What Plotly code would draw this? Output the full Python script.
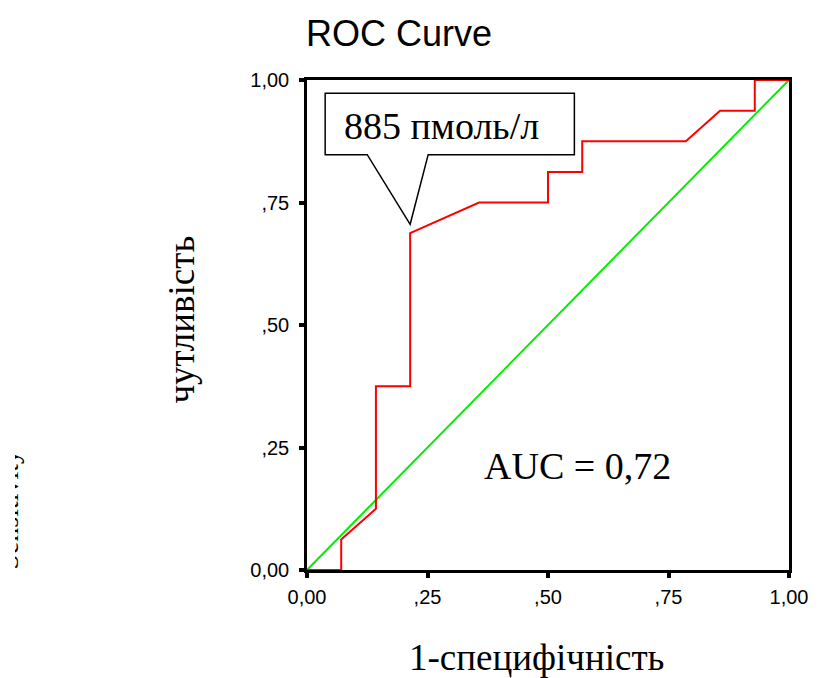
import plotly.graph_objects as go

# ROC curve data (1-specificity, sensitivity)
fpr = [0.0, 0.071, 0.071, 0.143, 0.143, 0.214, 0.214, 0.357, 0.5, 0.5,
       0.571, 0.571, 0.786, 0.857, 0.929, 0.929, 1.0]
tpr = [0.0, 0.0, 0.0625, 0.125, 0.375, 0.375, 0.6875, 0.75, 0.75, 0.8125,
       0.8125, 0.875, 0.875, 0.9375, 0.9375, 1.0, 1.0]
ref_x = [0.0, 1.0]
ref_y = [0.0, 1.0]

tick_vals = [0.0, 0.25, 0.5, 0.75, 1.0]
tick_text = ["0,00", ",25", ",50", ",75", "1,00"]

cutoff_label = "885 пмоль/л"
auc_label = "AUC = 0,72"

W, H = 820, 678
L, R, T, B = 307, 25, 80, 108

SERIF = "Liberation Serif, Times New Roman, serif"
SANS = "Liberation Sans, Arial, sans-serif"

fig = go.Figure()
fig.add_trace(go.Scatter(x=ref_x, y=ref_y, mode="lines",
                         line=dict(color="#00ee00", width=2), cliponaxis=False,
                         hoverinfo="skip", showlegend=False))
fig.add_trace(go.Scatter(x=fpr, y=tpr, mode="lines",
                         line=dict(color="#ff0000", width=2), cliponaxis=False,
                         showlegend=False))

# callout box with pointer
path = ("M 0.0377,0.973 L 0.5547,0.973 L 0.5547,0.8476 L 0.2514,0.8476 "
        "L 0.214,0.7055 L 0.125,0.8476 L 0.0377,0.8476 Z")
fig.add_shape(type="path", path=path, xref="x", yref="y",
              line=dict(color="black", width=1.5), fillcolor="white", layer="above")

fig.add_annotation(x=0.280, y=0.907, xref="x", yref="y", text=cutoff_label,
                   showarrow=False, xanchor="center", yanchor="middle",
                   font=dict(family=SERIF, size=38, color="black"))
fig.add_annotation(x=0.562, y=0.212, xref="x", yref="y", text=auc_label,
                   showarrow=False, xanchor="center", yanchor="middle",
                   font=dict(family=SERIF, size=38, color="black"))

def px_to_paper_x(px):
    return (px - L) / (W - L - R)

def px_to_paper_y(py):
    return (H - B - py) / (H - T - B)

def label(px, py, text, font, angle=0, **kw):
    fig.add_annotation(x=px_to_paper_x(px), y=px_to_paper_y(py), xref="paper", yref="paper",
                       text=text, showarrow=False, textangle=angle,
                       xanchor=kw.pop("xanchor", "center"), yanchor="middle",
                       font=font, **kw)

# title
label(400, 34, "ROC Curve", dict(family=SANS, size=36, color="black"))
# axis titles
label(539, 657, "1-специфічність", dict(family=SERIF, size=37, color="black"))
label(179, 320, "чутливість", dict(family=SERIF, size=37, color="black"), angle=-90)
# remnant of the original English label, mostly covered
label(4, 510, "Sensitivity", dict(family=SERIF, size=28, color="black"), angle=-90)
label(11.5, 510, " ", dict(family=SERIF, size=10, color="white"),
      xanchor="right", bgcolor="white", width=40, height=160, borderpad=0, borderwidth=0)

axis_common = dict(range=[0, 1], tickvals=tick_vals, ticktext=tick_text,
                   showgrid=False, zeroline=False, showline=True, mirror=True,
                   linecolor="black", linewidth=2.5, ticks="outside", ticklen=5,
                   tickwidth=4, tickcolor="black",
                   tickfont=dict(family=SANS, size=20, color="black"))

fig.update_xaxes(**axis_common, ticklabelstandoff=2)
fig.update_yaxes(**axis_common, ticklabelstandoff=6)

fig.update_layout(width=W, height=H, margin=dict(l=L, r=R, t=T, b=B),
                  plot_bgcolor="white", paper_bgcolor="white")

fig.write_html("out.html")
